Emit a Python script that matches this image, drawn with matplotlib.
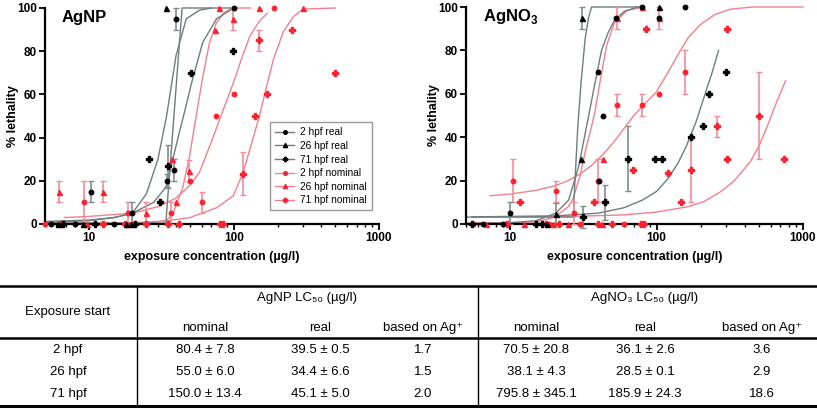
import matplotlib.pyplot as plt
from matplotlib.lines import Line2D
from matplotlib.ticker import LogLocator, NullFormatter, FixedLocator

plt.rcParams['font.family'] = ['Liberation Sans', 'DejaVu Sans']
plt.rcParams['mathtext.fontset'] = 'custom'
plt.rcParams['mathtext.rm'] = 'Liberation Sans'
plt.rcParams['mathtext.bf'] = 'Liberation Sans:bold'

GRAY = '#6f7d7d'
PINK = '#f4808f'
RED = '#ff2030'
GRAY_ERR = '#7f8e8e'
PINK_ERR = '#f58c9b'

# ---------------- AgNP: fitted curves ----------------
np_c2r_x = [5, 34, 44, 100]
np_c2r_y = [0.4, 0.4, 100, 100]
np_c26r_x = [5, 10, 15, 20, 25, 30, 34.4, 40, 47, 58, 70]
np_c26r_y = [1.2, 1.8, 3, 5, 14, 30, 50, 78, 95, 99, 100]
np_c71r_x = [5, 10, 15, 20, 28, 34, 42, 45, 51, 61, 76, 100]
np_c71r_y = [0.8, 1.5, 3, 5, 10, 17, 42, 50, 65, 84, 95, 100]
np_c2n_x = [6.8, 10, 20, 30, 40, 50, 58, 70, 80.4, 100, 115, 129, 150, 170]
np_c2n_y = [3, 3.5, 5, 8, 12, 18, 24, 38, 49, 66, 78, 87, 94, 97.5]
np_c26n_x = [5, 20, 30, 34, 38, 44.5, 49.4, 55, 61, 68, 75.6, 86, 98.5, 130]
np_c26n_y = [0.3, 0.5, 1, 1.5, 4.7, 17, 31, 50, 68, 84, 93, 98, 100, 100]
np_c71n_x = [18, 35, 50, 60, 76, 99, 116, 136, 150, 170, 187, 219, 257, 300, 500]
np_c71n_y = [0.3, 1.5, 3, 5, 7.5, 13, 24, 40, 50, 65, 76, 89, 96, 99.5, 100]

# ---------------- AgNP: measured points (x, y, error) ----------------
np_p2r_x = [5.5, 8, 10.4, 15, 20, 34.7, 39, 40, 100]
np_p2r_y = [0, 0, 15, 0, 5, 20, 25, 95, 100]
np_p2r_e = [0, 0, 5, 0, 5, 3, 5, 5, 0]
np_p26r_x = [6.1, 9.2, 18, 19.5, 34.3]
np_p26r_y = [0, 0, 0, 0, 100]
np_p26r_e = [0, 0, 0, 0, 0]
np_p71r_x = [6.6, 11, 21, 26, 31, 35, 50.8, 99]
np_p71r_y = [0, 0, 0, 30, 10, 26.7, 70, 80]
np_p71r_e = [0, 0, 0, 0, 0, 10, 0, 0]
np_p2n_x = [5, 9.3, 18.6, 37, 50, 60, 75, 100, 190, 20]
np_p2n_y = [0, 10, 5, 5, 20, 10, 50, 60, 100, 0]
np_p2n_e = [0, 10, 5, 5, 0, 5, 0, 0, 0, 0]
np_p26n_x = [6.2, 12.5, 24.8, 37.4, 40, 49.4, 74, 79.6, 98.5, 150, 300, 9.8, 18.5]
np_p26n_y = [15, 15, 5, 30, 10, 24.5, 90, 100, 95, 100, 100, 0, 0]
np_p26n_e = [5, 5, 5, 0, 0, 5, 0, 0, 5, 0, 0, 0, 0]
np_p71n_x = [6.4, 12.5, 17.7, 21, 25, 35, 42, 80, 84, 115, 140, 150, 170, 250, 500]
np_p71n_y = [0, 0, 0, 0, 0, 0, 0, 0, 0, 23.3, 50, 85, 60, 90, 70]
np_p71n_e = [0, 0, 0, 0, 0, 0, 0, 0, 0, 10, 0, 5, 0, 0, 0]

# ---------------- AgNO3: fitted curves ----------------
no_c2r_x = [5, 10, 15, 20.5, 25.1, 29.4, 34.3, 38, 42.1, 46.6, 51.7, 60.4, 74.2]
no_c2r_y = [0.3, 0.5, 1.5, 5, 11, 26.5, 49.5, 65, 80, 88, 94, 98, 100]
no_c26r_x = [5, 27, 27.5, 29, 30.5, 32.5, 34.3, 36, 80]
no_c26r_y = [3.2, 3.2, 15, 45, 65, 85, 95, 100, 100]
no_c71r_x = [5.5, 20, 40, 60, 80, 100, 120, 140, 160, 186, 210, 240, 265]
no_c71r_y = [3.3, 3.7, 5, 7.5, 11, 15, 21, 28, 36, 47, 58, 70, 80]
no_c2n_x = [7.3, 10, 15, 20, 25, 30, 36, 43, 50, 60, 70, 85, 100, 120, 140,
            165, 200, 250, 320, 450, 1000]
no_c2n_y = [13, 13.8, 15.5, 17.5, 20, 23, 27, 32, 37, 44, 50, 56, 61, 70, 78,
            86, 92, 96.5, 99, 100, 100]
no_c26n_x = [5, 15, 20, 25, 27, 30, 33, 36, 38, 41, 45.5, 51.7, 63.5, 82]
no_c26n_y = [0.3, 1, 3, 8, 12, 22, 35, 45, 52, 65, 82, 93, 98.5, 100]
no_c71n_x = [5.5, 30, 60, 100, 165, 213, 276, 340, 440, 500, 570, 650, 760]
no_c71n_y = [3.3, 3.6, 4.2, 5.5, 8, 10.5, 15, 20, 29, 36, 45, 55, 66]

# ---------------- AgNO3: measured points ----------------
no_p2r_x = [6.5, 9, 10, 40.4, 40, 42.8, 52.7, 79, 104.7, 156]
no_p2r_y = [0, 0, 5, 20, 70, 50, 95, 100, 95, 100]
no_p2r_e = [0, 0, 5, 0, 0, 0, 0, 0, 0, 0]
no_p26r_x = [18, 20.5, 30.5, 31, 104.7]
no_p26r_y = [0, 4.7, 30, 95, 100]
no_p26r_e = [0, 5, 0, 5, 0]
no_p71r_x = [5.5, 15, 16.5, 31.3, 44.3, 63.5, 97, 109, 171, 208, 228, 298]
no_p71r_y = [0, 0, 0, 3.2, 10, 30, 30, 30, 40, 45, 60, 70]
no_p71r_e = [0, 0, 0, 5, 8, 15, 0, 0, 0, 0, 0, 0]
no_p2n_x = [5.6, 10.4, 20.5, 27.2, 40, 53.3, 79, 104.7, 156, 18.5, 30, 60]
no_p2n_y = [0, 20, 15, 5, 20, 55, 55, 60, 70, 0, 0, 0]
no_p2n_e = [0, 10, 5, 5, 10, 5, 5, 0, 10, 0, 0, 0]
no_p26n_x = [6.9, 12.5, 42.8, 53.3, 79, 104.7, 19.5, 25, 42.5]
no_p26n_y = [0, 0, 30, 95, 100, 95, 0, 0, 0]
no_p26n_e = [0, 0, 0, 5, 0, 5, 0, 0, 0]
no_p71n_x = [9.5, 11.7, 17.5, 21.5, 37.4, 40, 50, 69.3, 78, 82, 84.4, 119.8,
             146.5, 171, 258, 305, 305, 504, 745]
no_p71n_y = [0, 10, 0, 0, 10, 0, 0, 25, 0, 0, 90, 23.3, 10, 25, 45, 90, 30,
             50, 30]
no_p71n_e = [0, 0, 0, 0, 0, 0, 0, 0, 0, 0, 0, 0, 0, 15, 5, 0, 0, 20, 0]

# ---------------- table ----------------
table_rows = ['2 hpf', '26 hpf', '71 hpf']
agnp_nominal = ['80.4 ± 7.8', '55.0 ± 6.0', '150.0 ± 13.4']
agnp_real = ['39.5 ± 0.5', '34.4 ± 6.6', '45.1 ± 5.0']
agnp_ion = ['1.7', '1.5', '2.0']
agno3_nominal = ['70.5 ± 20.8', '38.1 ± 4.3', '795.8 ± 345.1']
agno3_real = ['36.1 ± 2.6', '28.5 ± 0.1', '185.9 ± 24.3']
agno3_ion = ['3.6', '2.9', '18.6']

series_style = [
    ('2 hpf real', GRAY, 'k', GRAY_ERR, 'o', 3.2),
    ('26 hpf real', GRAY, 'k', GRAY_ERR, '^', 3.6),
    ('71 hpf real', GRAY, 'k', GRAY_ERR, 'P', 3.8),
    ('2 hpf nominal', PINK, RED, PINK_ERR, 'o', 3.2),
    ('26 hpf nominal', PINK, RED, PINK_ERR, '^', 3.6),
    ('71 hpf nominal', PINK, RED, PINK_ERR, 'P', 3.8),
]


def draw(ax, curves, points):
    # curves first (pink below gray like in the figure)
    for i in [3, 4, 5, 0, 1, 2]:
        cx, cy = curves[i]
        ax.plot(cx, cy, color=series_style[i][1], lw=1.0, zorder=2,
                clip_on=False)
    for i in [3, 4, 5, 0, 1, 2]:
        px, py, pe = points[i]
        _, lc, mc, ec, mk, ms = series_style[i]
        ex = [x for x, e in zip(px, pe) if e > 0]
        ey = [y for y, e in zip(py, pe) if e > 0]
        ee = [e for e in pe if e > 0]
        if ex:
            ax.errorbar(ex, ey, yerr=ee, fmt='none', ecolor=ec, elinewidth=1.2,
                        capsize=2.5, capthick=1.0, zorder=3, clip_on=False)
        ax.plot(px, py, ls='none', marker=mk, ms=ms, color=mc, mec=mc,
                zorder=4, clip_on=False)

    ax.set_xscale('log')
    ax.set_xlim(5, 1000)
    ax.set_ylim(0, 100)
    ax.xaxis.set_major_locator(FixedLocator([10, 100, 1000]))
    ax.xaxis.set_minor_locator(LogLocator(base=10, subs=range(2, 10)))
    ax.xaxis.set_minor_formatter(NullFormatter())
    ax.set_xticklabels(['10', '100', '1000'])
    ax.set_yticks([0, 20, 40, 60, 80, 100])
    for s in ['top', 'right']:
        ax.spines[s].set_visible(False)
    for s in ['left', 'bottom']:
        ax.spines[s].set_linewidth(1.6)
    ax.tick_params(which='major', direction='out', length=4, width=1.3,
                   labelsize=8.5, pad=2)
    ax.tick_params(which='minor', direction='out', length=2.5, width=1.0)
    for lab in ax.get_xticklabels() + ax.get_yticklabels():
        lab.set_fontweight('bold')
    ax.set_xlabel('exposure concentration (µg/l)', fontsize=9,
                  fontweight='bold', labelpad=5)
    ax.set_ylabel('% lethality', fontsize=9, fontweight='bold')
    ax.yaxis.set_label_coords(-0.078, 0.5)


fig = plt.figure(figsize=(8.17, 4.12), dpi=100)

ax1 = fig.add_axes([45 / 817, 1 - 224 / 412, 334 / 817, 216 / 412])
draw(ax1,
     [(np_c2r_x, np_c2r_y), (np_c26r_x, np_c26r_y), (np_c71r_x, np_c71r_y),
      (np_c2n_x, np_c2n_y), (np_c26n_x, np_c26n_y), (np_c71n_x, np_c71n_y)],
     [(np_p2r_x, np_p2r_y, np_p2r_e), (np_p26r_x, np_p26r_y, np_p26r_e),
      (np_p71r_x, np_p71r_y, np_p71r_e), (np_p2n_x, np_p2n_y, np_p2n_e),
      (np_p26n_x, np_p26n_y, np_p26n_e), (np_p71n_x, np_p71n_y, np_p71n_e)])
ax1.text(0.05, 0.955, 'AgNP', transform=ax1.transAxes, fontsize=12,
         fontweight='bold', va='center', ha='left')

handles = [Line2D([], [], color=lc, lw=1.0, marker=mk, ms=ms - 0.6, mfc=mc,
                  mec=mc, label=name)
           for name, lc, mc, ec, mk, ms in series_style]
leg = ax1.legend(handles=handles, loc='lower right',
                 bbox_to_anchor=(0.995, 0.04), fontsize=7.3, frameon=True,
                 fancybox=False, edgecolor='#808080', handlelength=1.9,
                 handletextpad=0.6, labelspacing=0.35, borderpad=0.5)
leg.get_frame().set_linewidth(1.0)

ax2 = fig.add_axes([466 / 817, 1 - 224 / 412, 337 / 817, 217 / 412])
draw(ax2,
     [(no_c2r_x, no_c2r_y), (no_c26r_x, no_c26r_y), (no_c71r_x, no_c71r_y),
      (no_c2n_x, no_c2n_y), (no_c26n_x, no_c26n_y), (no_c71n_x, no_c71n_y)],
     [(no_p2r_x, no_p2r_y, no_p2r_e), (no_p26r_x, no_p26r_y, no_p26r_e),
      (no_p71r_x, no_p71r_y, no_p71r_e), (no_p2n_x, no_p2n_y, no_p2n_e),
      (no_p26n_x, no_p26n_y, no_p26n_e), (no_p71n_x, no_p71n_y, no_p71n_e)])
ax2.text(0.05, 0.955, r'AgNO$_\mathbf{3}$', transform=ax2.transAxes,
         fontsize=12, fontweight='bold', va='center', ha='left')

# ---------------- table drawn in pixel coordinates ----------------
tab = fig.add_axes([0, 0, 1, 1], zorder=-1)
tab.set_xlim(0, 817)
tab.set_ylim(412, 0)
tab.axis('off')
narrow = ['Liberation Sans Narrow', 'Liberation Sans', 'DejaVu Sans']
fs = 9.5

tab.plot([0, 817], [286, 286], color='k', lw=1.8)
tab.plot([0, 817], [338, 338], color='k', lw=1.8)
tab.plot([0, 817], [406, 406], color='k', lw=2.2)
tab.plot([137, 137], [286, 406], color='k', lw=1.0)
tab.plot([478, 478], [286, 406], color='k', lw=1.0)

tab.text(68, 312, 'Exposure start', family=narrow, fontsize=fs,
         ha='center', va='center')
tab.text(307, 298, 'AgNP LC₅₀ (µg/l)', family=narrow, fontsize=fs,
         ha='center', va='center')
tab.text(645, 298, 'AgNO₃ LC₅₀ (µg/l)', family=narrow, fontsize=fs,
         ha='center', va='center')
col_x = [205, 320, 423, 536, 645, 762]
sub_heads = ['nominal', 'real', 'based on Ag⁺'] * 2
for cx, txt in zip(col_x, sub_heads):
    tab.text(cx, 328, txt, family=narrow, fontsize=fs, ha='center',
             va='center')

row_y = [350, 372, 394]
cols = [agnp_nominal, agnp_real, agnp_ion, agno3_nominal, agno3_real,
        agno3_ion]
for r, ry in enumerate(row_y):
    tab.text(68, ry, table_rows[r], family=narrow, fontsize=fs, ha='center',
             va='center')
    for cx, col in zip(col_x, cols):
        tab.text(cx, ry, col[r], family=narrow, fontsize=fs, ha='center',
                 va='center')

fig.savefig('out.png', dpi=100)
